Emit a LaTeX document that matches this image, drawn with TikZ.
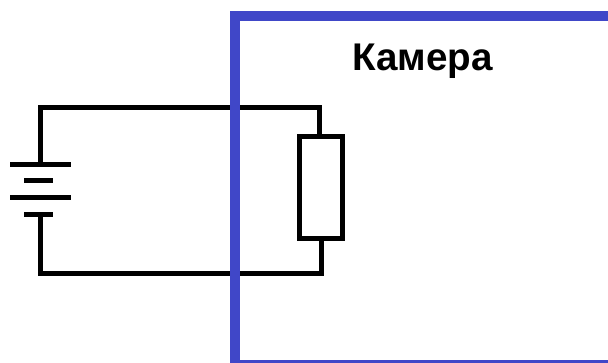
\documentclass[tikz,border=0pt]{standalone}
\usepackage{fontspec}
\setmainfont{Liberation Sans}
\definecolor{frameblue}{HTML}{4047C8}
\tikzset{
  wire/.style={draw=black,line width=5pt,line join=miter},
  plate/.style={draw=black,line width=5.4pt,line cap=butt},
  resistorbox/.style={draw=black,line width=4.8pt,fill=white,minimum width=43pt,minimum height=102pt,inner sep=0pt,outer sep=0pt},
  cameraframe/.style={draw=frameblue,line width=10pt},
  cameralabel/.style={font=\bfseries\fontsize{38.6}{38.6}\selectfont,text=black,inner sep=0pt}
}
\begin{document}
\begin{tikzpicture}[x=1pt,y=-1pt]
\useasboundingbox (0,0) rectangle (608,363);
\clip (0,0) rectangle (608,363);
\fill[white] (0,0) rectangle (608,363);
% battery plates
\coordinate (p1l) at (10,164.7); \coordinate (p1r) at (70.5,164.7);
\coordinate (p2l) at (24,180.7); \coordinate (p2r) at (53,180.7);
\coordinate (p3l) at (10,197.3); \coordinate (p3r) at (70.5,197.3);
\coordinate (p4l) at (24,214.7); \coordinate (p4r) at (53,214.7);
\coordinate (bt) at (40,164.7); \coordinate (bb) at (40,214.7);
\coordinate (tl) at (40,107.5); \coordinate (tr) at (319,107.5);
\coordinate (bl) at (40,274); \coordinate (brr) at (321,274);
\node[resistorbox] (res) at (320.7,187.3) {};
\draw[wire] (bt) -- (tl) -- (tr) -- (tr |- res.north);
\draw[wire] (bb) -- (bl) -- (brr) -- (brr |- res.south);
\draw[plate] (p1l) -- (p1r);
\draw[plate] (p2l) -- (p2r);
\draw[plate] (p3l) -- (p3r);
\draw[plate] (p4l) -- (p4r);
\draw[cameraframe] (700,16) -- (234.5,16) -- (234.5,365.5) -- (700,365.5);
\node[cameralabel,anchor=base west] (cam) at (352,71) {Камера};
\end{tikzpicture}
\end{document}
